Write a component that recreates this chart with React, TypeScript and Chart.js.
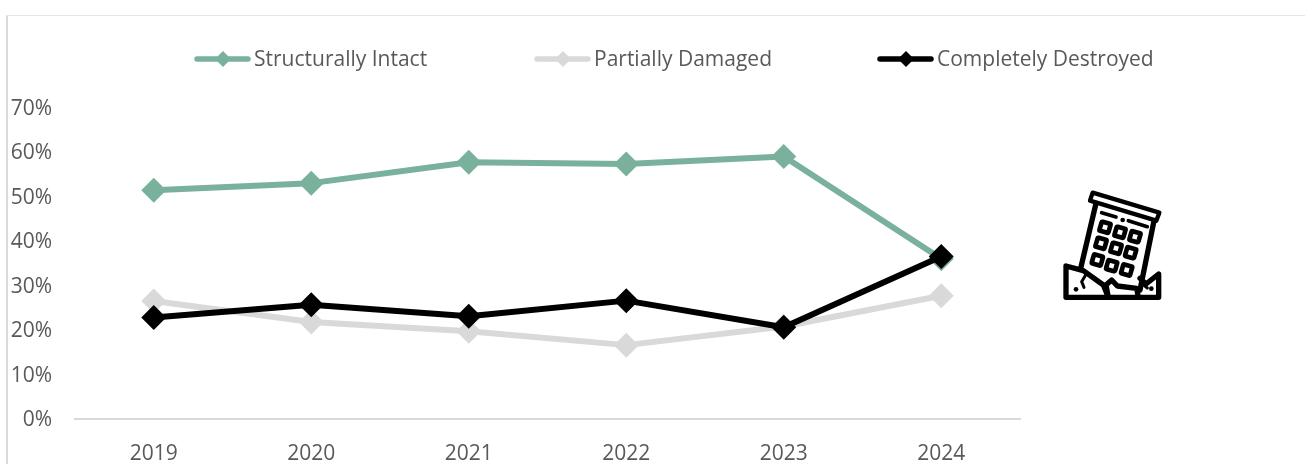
import React, { useEffect, useRef } from "react";
import { Chart, registerables } from "chart.js";

Chart.register(...registerables);

const years = ["2019", "2020", "2021", "2022", "2023", "2024"];
const structurallyIntact = [51.4, 53.0, 57.7, 57.3, 59.0, 36.0];
const partiallyDamaged = [26.5, 21.8, 19.7, 16.6, 20.8, 27.7];
const completelyDestroyed = [22.8, 25.7, 23.1, 26.6, 20.6, 36.5];
const GREEN = "#7AB19C";
const GREY = "#D9D9D9";
const BLACK = "#000000";
const TEXT = "#595959";
const FONT = "Open Sans";

const legendPlugin = {
  id: "lineMarkerLegend",
  afterDraw(chart: any) {
    const { ctx } = chart;
    const starts = [197, 537, 880];
    const y = 59;
    ctx.save();
    chart.data.datasets.forEach((ds: any, i: number) => {
      const x0 = starts[i];
      ctx.strokeStyle = ds.borderColor;
      ctx.lineWidth = 5.5;
      ctx.lineCap = "round";
      ctx.beginPath();
      ctx.moveTo(x0, y);
      ctx.lineTo(x0 + 51, y);
      ctx.stroke();
      const cx = x0 + 26;
      ctx.fillStyle = ds.borderColor;
      ctx.beginPath();
      ctx.moveTo(cx - 8, y);
      ctx.lineTo(cx, y - 8);
      ctx.lineTo(cx + 8, y);
      ctx.lineTo(cx, y + 8);
      ctx.closePath();
      ctx.fill();
      ctx.fillStyle = TEXT;
      ctx.font = `21px "${FONT}"`;
      ctx.textAlign = "left";
      ctx.textBaseline = "middle";
      ctx.fillText(ds.label, x0 + 57, y + 1);
    });
    ctx.restore();
  },
};

function Icon() {
  const s = { fill: "none", stroke: "#000", strokeWidth: 16, strokeLinejoin: "round" as const, strokeLinecap: "round" as const };
  const windows = [
    [195, 172], [240, 187], [285, 200],
    [183, 220], [228, 235], [272, 248],
    [172, 270], [215, 287], [260, 300],
  ];
  return (
    <svg width={140} height={140} viewBox="0 0 420 420" style={{ position: "absolute", left: 1040, top: 170 }}>
      <path d="M158 68 L358 128 L349 152 L150 92 Z" {...s} strokeWidth={13} />
      <path d="M168 100 L122 295" {...s} />
      <path d="M342 152 L300 360" {...s} />
      <path d="M185 128 L228 141 M265 152 L322 170" {...s} strokeWidth={11} />
      <circle cx={248} cy={150} r={7} fill="#000" />
      {windows.map(([x, y], i) => (
        <rect key={i} x={x - 14} y={y - 14} width={28} height={28} rx={3} transform={`rotate(16 ${x} ${y})`} {...s} strokeWidth={14} />
      ))}
      <path d="M78 288 L130 302 L190 345 L205 382 L78 382 Z" {...s} fill="#fff" />
      <path d="M205 382 L198 345 L215 330 L232 348 L290 355 L295 382 Z" {...s} fill="#fff" />
      <path d="M300 325 L318 342 L356 312 L356 382 L295 382" {...s} />
      <path d="M125 335 L137 315 M125 335 L132 352" {...s} strokeWidth={9} />
      <path d="M305 340 L322 354" {...s} strokeWidth={9} />
      <circle cx={108} cy={358} r={7} fill="#000" />
      <circle cx={334} cy={356} r={7} fill="#000" />
    </svg>
  );
}

export default function App() {
  const ref = useRef<HTMLCanvasElement>(null);
  useEffect(() => {
    const mk = (label: string, data: number[], color: string, order: number) => ({
      label,
      data,
      order,
      borderColor: color,
      backgroundColor: color,
      borderWidth: 6,
      pointStyle: "rectRot",
      pointRadius: 12.5,
      pointHoverRadius: 12.5,
      pointBorderWidth: 0,
      pointBackgroundColor: color,
      tension: 0,
      borderCapStyle: "round" as const,
      borderJoinStyle: "round" as const,
    });
    const chart = new Chart(ref.current!, {
      type: "line",
      data: {
        labels: years,
        datasets: [
          mk("Structurally Intact", structurallyIntact, GREEN, 3),
          mk("Partially Damaged", partiallyDamaged, GREY, 2),
          mk("Completely Destroyed", completelyDestroyed, BLACK, 1),
        ],
      },
      options: {
        animation: false,
        responsive: false,
        layout: { padding: { top: 107.5, right: 285, left: 1, bottom: 0 } },
        plugins: { legend: { display: false }, tooltip: { enabled: false }, title: { display: false } },
        scales: {
          x: {
            offset: true,
            grid: { display: false },
            border: { display: true, color: GREY, width: 2 },
            ticks: { color: TEXT, font: { family: FONT, size: 21 }, padding: 14, maxRotation: 0 },
            afterFit: (s: any) => { s.height = 45; },
          },
          y: {
            min: 0,
            max: 70,
            grid: { display: false, drawTicks: false },
            border: { display: false },
            ticks: {
              stepSize: 10,
              color: TEXT,
              font: { family: FONT, size: 21 },
              padding: 23,
              labelOffset: 1.5,
              callback: (v: any) => `${v}%`,
            },
            afterFit: (s: any) => { s.width = 74; },
          },
        },
      },
      plugins: [legendPlugin],
    });
    return () => chart.destroy();
  }, []);
  return (
    <div style={{ position: "absolute", left: 0, top: 0, width: 1305, height: 464, background: "#fff", overflow: "hidden" }}>
      <canvas ref={ref} width={1305} height={464} style={{ display: "block", position: "absolute", left: 0, top: 0 }} />
      <div style={{ position: "absolute", left: 6, top: 15, width: 2, height: 449, background: GREY }} />
      <div style={{ position: "absolute", left: 6, top: 15, width: 1299, height: 1, background: "#E6E6E6" }} />
      <Icon />
    </div>
  );
}
